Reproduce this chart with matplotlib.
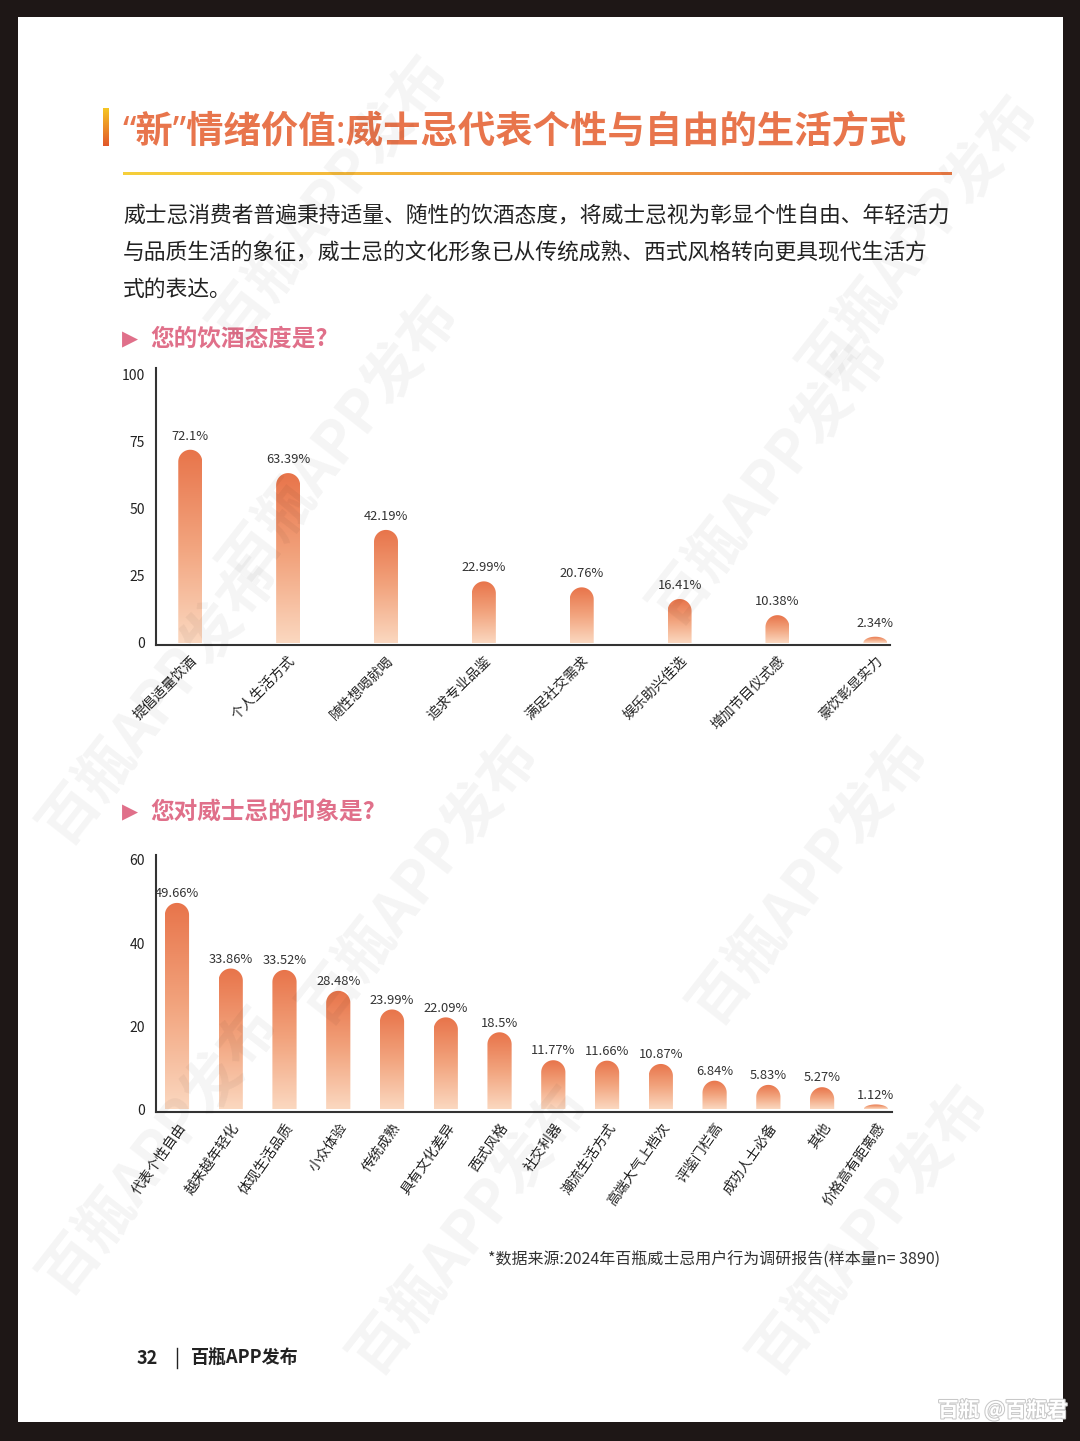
import numpy as np
import matplotlib
matplotlib.use("Agg")
import matplotlib.pyplot as plt
from matplotlib.path import Path
from matplotlib.patches import PathPatch, Rectangle
from matplotlib.colors import LinearSegmentedColormap
import matplotlib.patheffects as pe

plt.rcParams['font.family'] = ['Noto Sans CJK SC', 'DejaVu Sans']

# ---------------- data ----------------
title = "“新”情绪价值:威士忌代表个性与自由的生活方式"
para_lines = [
    "威士忌消费者普遍秉持适量、随性的饮酒态度，将威士忌视为彰显个性自由、年轻活力",
    "与品质生活的象征，威士忌的文化形象已从传统成熟、西式风格转向更具现代生活方",
    "式的表达。",
]
q1 = "您的饮酒态度是?"
cats1 = ['提倡适量饮酒', '个人生活方式', '随性想喝就喝', '追求专业品鉴',
         '满足社交需求', '娱乐助兴佳选', '增加节目仪式感', '豪饮彰显实力']
vals1 = [72.1, 63.39, 42.19, 22.99, 20.76, 16.41, 10.38, 2.34]
labels1 = ['72.1%', '63.39%', '42.19%', '22.99%', '20.76%', '16.41%', '10.38%', '2.34%']
yticks1 = [0, 25, 50, 75, 100]

q2 = "您对威士忌的印象是?"
cats2 = ['代表个性自由', '越来越年轻化', '体现生活品质', '小众体验', '传统成熟',
         '具有文化差异', '西式风格', '社交利器', '潮流生活方式', '高端大气上档次',
         '评鉴门栏高', '成功人士必备', '其他', '价格高有距离感']
vals2 = [49.66, 33.86, 33.52, 28.48, 23.99, 22.09, 18.5, 11.77, 11.66, 10.87,
         6.84, 5.83, 5.27, 1.12]
labels2 = ['49.66%', '33.86%', '33.52%', '28.48%', '23.99%', '22.09%', '18.5%',
           '11.77%', '11.66%', '10.87%', '6.84%', '5.83%', '5.27%', '1.12%']
yticks2 = [0, 20, 40, 60]

source = "*数据来源:2024年百瓶威士忌用户行为调研报告(样本量n= 3890)"
footer_num = "32"
footer_txt = "百瓶APP发布"
watermark = "百瓶APP发布"
brand = "百瓶 @百瓶君"

# ---------------- figure ----------------
W, H = 1080, 1441
fig = plt.figure(figsize=(W / 100, H / 100), dpi=100)
fig.patch.set_facecolor('#1e1716')

def fx(x):
    return x / W

def fy(y):
    return 1 - y / H

# white page
page = Rectangle((fx(18), fy(1422)), fx(1063) - fx(18), fy(17) - fy(1422),
                 transform=fig.transFigure, facecolor='white', edgecolor='none', zorder=-5)
fig.patches.append(page)

# watermarks
wm_pos = [(330, 200), (340, 440), (770, 480), (810, 880), (420, 880),
          (470, 1230), (870, 1230), (160, 700), (920, 240), (160, 1150)]
for (x, y) in wm_pos:
    fig.text(fx(x), fy(y), watermark, fontsize=42, fontweight='bold', color='#000000',
             alpha=0.045, rotation=52, ha='center', va='center', zorder=5)

# title accent bar (gradient)
acc = fig.add_axes([fx(103), fy(146), fx(6), (146 - 108) / H])
acc.imshow(np.linspace(0, 1, 100).reshape(-1, 1), aspect='auto',
           cmap=LinearSegmentedColormap.from_list('acc', ['#f6c623', '#e2572a']),
           extent=[0, 1, 0, 1], origin='upper')
acc.axis('off')

fig.text(fx(123), fy(133), title, fontsize=26.9, fontweight='bold', color='#e8754c',
         ha='left', va='center', zorder=3, family=['Noto Sans', 'Noto Sans CJK SC'])

# underline gradient
ul = fig.add_axes([fx(123), fy(175), fx(952 - 123), 3 / H])
ul.imshow(np.linspace(0, 1, 200).reshape(1, -1), aspect='auto',
          cmap=LinearSegmentedColormap.from_list('ul', ['#f6cf3a', '#f2a43e', '#ea7a45']),
          extent=[0, 1, 0, 1])
ul.axis('off')

for i, line in enumerate(para_lines):
    fig.text(fx(123), fy(216 + 37 * i), line, fontsize=15.7, color='#222222',
             ha='left', va='center', zorder=3)

def section(y, text):
    fig.text(fx(122), fy(y), "▶", fontsize=15, color='#e0708a', ha='left', va='center',
             family=['DejaVu Sans'], zorder=3)
    fig.text(fx(150), fy(y), text, fontsize=17, fontweight='bold', color='#e0708a',
             ha='left', va='center', zorder=3)

section(339, q1)
section(812, q2)

cmap_bar = LinearSegmentedColormap.from_list('bar', ['#fbd8c0', '#f2a47e', '#e8744a'])
grad = np.linspace(0, 1, 256).reshape(-1, 1)


def make_chart(box, cats, vals, labels, yticks, xlim, ylim, width, rot, lab_off):
    l, t, r, b = box
    ax = fig.add_axes([fx(l), fy(b), fx(r - l), (b - t) / H])
    ax.set_facecolor('none')
    ax.set_xlim(*xlim)
    ax.set_ylim(*ylim)
    ppx = (r - l) / (xlim[1] - xlim[0])
    ppy = (b - t) / (ylim[1] - ylim[0])
    ry_full = (width / 2) * ppx / ppy
    for i, (v, lab) in enumerate(zip(vals, labels)):
        cap = min(ry_full, v)
        th = np.linspace(np.pi, 0, 40)
        xs = i + (width / 2) * np.cos(th)
        ys = (v - cap) + cap * np.sin(th)
        verts = [(i - width / 2, 0)] + list(zip(xs, ys)) + [(i + width / 2, 0), (i - width / 2, 0)]
        codes = [Path.MOVETO] + [Path.LINETO] * (len(verts) - 2) + [Path.CLOSEPOLY]
        patch = PathPatch(Path(verts, codes), facecolor='none', edgecolor='none')
        ax.add_patch(patch)
        im = ax.imshow(grad, extent=[i - width / 2, i + width / 2, 0, v], aspect='auto',
                       cmap=cmap_bar, origin='lower', zorder=2)
        im.set_clip_path(patch)
        ax.annotate(lab, (i, v), xytext=(0, lab_off), textcoords='offset points',
                    ha='center', va='bottom', fontsize=9.3, color='#333333')
    ax.set_xlim(*xlim)
    ax.set_ylim(*ylim)
    ax.set_aspect('auto')
    ax.set_yticks(yticks)
    ax.set_yticklabels([str(v) for v in yticks], fontsize=10, color='#222222')
    ax.set_xticks(range(len(cats)))
    ax.set_xticklabels(cats, rotation=rot, ha='right', va='top', rotation_mode='anchor',
                       fontsize=10, color='#222222')
    ax.tick_params(axis='both', length=0)
    ax.tick_params(axis='y', pad=8)
    ax.tick_params(axis='x', pad=6)
    for s in ['top', 'right']:
        ax.spines[s].set_visible(False)
    for s in ['left', 'bottom']:
        ax.spines[s].set_color('#333333')
        ax.spines[s].set_linewidth(1.5)
    return ax

make_chart((156, 368, 890, 645), cats1, vals1, labels1, yticks1,
           (-0.35, 7.15), (-0.75, 102.6), 0.245, 45, 5)
make_chart((156, 855, 892, 1112), cats2, vals2, labels2, yticks2,
           (-0.39, 13.3), (-0.7, 61.2), 0.45, 55, 2)

fig.text(fx(940), fy(1260), source, fontsize=11.5, color='#333333', ha='right',
         va='center', zorder=3)

fig.text(fx(137), fy(1358), footer_num, fontsize=13, fontweight='bold', color='#222222',
         ha='left', va='center', zorder=3)
fig.lines.append(plt.Line2D([fx(177), fx(177)], [fy(1348), fy(1368)], color='#222222',
                            lw=1, transform=fig.transFigure))
fig.text(fx(191), fy(1358), footer_txt, fontsize=13, fontweight='bold', color='#222222',
         ha='left', va='center', zorder=3)

fig.text(fx(1068), fy(1410), brand, fontsize=15, fontweight='bold', color='white',
         ha='right', va='center', zorder=6,
         path_effects=[pe.withStroke(linewidth=1.5, foreground='#c8c8c8')])

fig.savefig('out.png', dpi=100, facecolor=fig.get_facecolor())
